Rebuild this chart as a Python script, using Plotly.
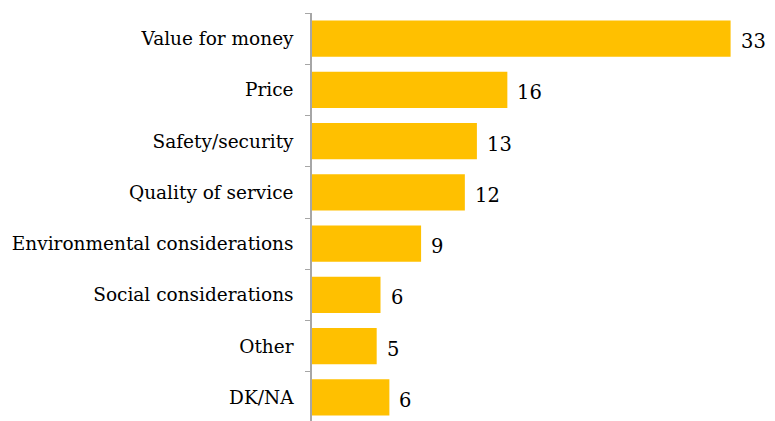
import plotly.graph_objects as go

categories = ["Value for money", "Price", "Safety/security", "Quality of service",
              "Environmental considerations", "Social considerations", "Other", "DK/NA"]
values = [33.0, 15.4, 13.0, 12.05, 8.6, 5.4, 5.1, 6.1]
labels = ["33", "16", "13", "12", "9", "6", "5", "6"]

FONT = "DejaVu Serif"
BAR = "#FFC000"

fig = go.Figure(go.Bar(
    x=values, y=categories, orientation="h",
    marker=dict(color=BAR, line=dict(width=0)),
    hoverinfo="skip",
))

for c, v, t in zip(categories, values, labels):
    fig.add_annotation(x=v, y=c, text=t, showarrow=False, xanchor="left",
                       xshift=8, yshift=-3, font=dict(family=FONT, size=19.5, color="#000000"))

fig.update_layout(
    width=767, height=413,
    margin=dict(l=304, r=0, t=5, b=0),
    paper_bgcolor="white", plot_bgcolor="white",
    bargap=0.295, showlegend=False,
    xaxis=dict(range=[0, 36.5], visible=False, fixedrange=True),
    yaxis=dict(range=[7.46, -0.5], showline=True, linecolor="#A6A6A6", linewidth=1.5,
               ticks="outside", tickson="boundaries", ticklen=5, tickcolor="#A6A6A6",
               tickfont=dict(family=FONT, size=18.5, color="#000000"),
               ticklabelstandoff=13, showgrid=False, zeroline=False, fixedrange=True),
)
fig.write_html("out.html")
